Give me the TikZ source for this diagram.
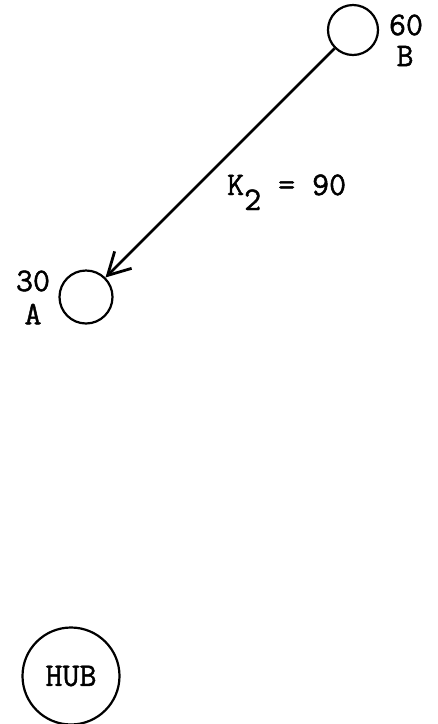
\documentclass[tikz,border=0pt]{standalone}
\usepackage{fontspec}
\usetikzlibrary{arrows.meta}
\newfontfamily\typefont[FakeBold=1.4]{Latin Modern Mono}

\tikzset{
  station/.style={circle, draw, line width=2.2pt, inner sep=0pt},
  tag/.style={font=\fontsize{33}{35}\selectfont\typefont, inner sep=0pt}
}

\begin{document}
\begin{tikzpicture}[x=1pt, y=-1pt, >={Straight Barb[length=22pt, width=24pt]}]

  % ==========================================
  % CADRE (proportions de la figure)
  % ==========================================
  \useasboundingbox (0,0) rectangle (438,724);

  % ==========================================
  % NOEUDS B ET A
  % ==========================================
  \node[station, minimum size=50pt] (B) at (353,30) {};
  \node[tag] (valB) at (406,25) {60};
  \node[tag] (nameB) at (405,56) {B};

  \node[station, minimum size=53pt] (A) at (86,297) {};
  \node[tag] (valA) at (33,281) {30};
  \node[tag] (nameA) at (33,314) {A};

  % Lien de B vers A
  \draw[->, line width=2.8pt] (B) -- (A);
  \node[tag, anchor=base west] (K) at (227,195) {K\raisebox{-15pt}{2} = 90};

  % ==========================================
  % HUB
  % ==========================================
  \node[station, minimum size=97pt, tag] (hub) at (71,676) {HUB};

\end{tikzpicture}
\end{document}
